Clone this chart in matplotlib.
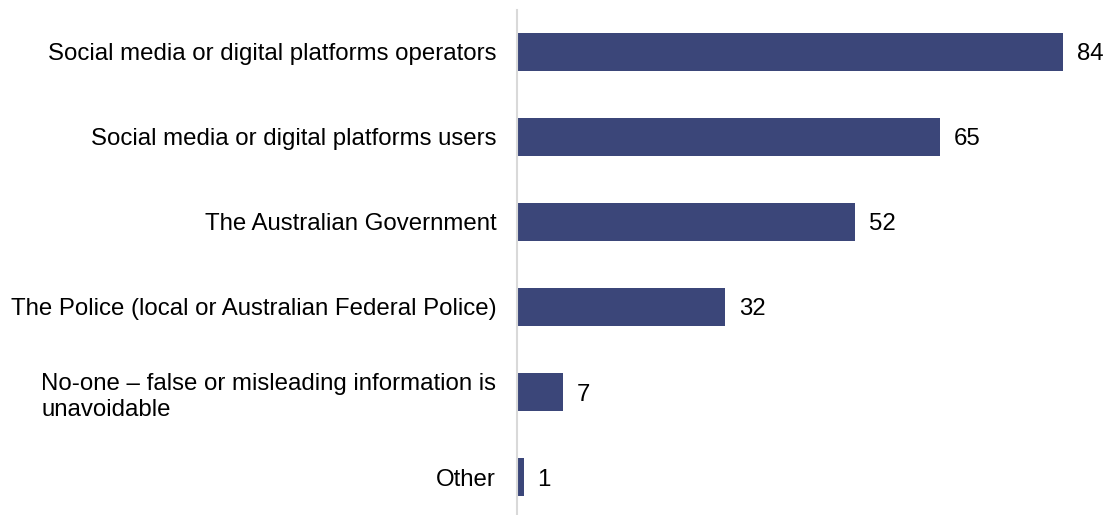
import matplotlib.pyplot as plt

plt.rcParams["font.family"] = ["Liberation Sans", "DejaVu Sans"]

categories = [
    "Social media or digital platforms operators",
    "Social media or digital platforms users",
    "The Australian Government",
    "The Police (local or Australian Federal Police)",
    "No-one \u2013 false or misleading information is\nunavoidable",
    "Other",
]
values = [84, 65, 52, 32, 7, 1]

BAR = "#3b4679"
FS = 17.3

fig = plt.figure(figsize=(11.11, 5.15), dpi=100)
ax = fig.add_axes([517 / 1111, 0, 585 / 1111, 505 / 515])

ypos = list(range(len(categories)))
ax.barh(ypos, values, height=0.45, color=BAR)
for y, v in zip(ypos, values):
    ax.annotate(str(v), (v, y), xytext=(10, 0), textcoords="offset points",
                va="center_baseline", ha="left", fontsize=FS, color="#000000")

ax.set_xlim(0, 90)
ax.set_ylim(5.447, -0.494)
ax.set_yticks(ypos)
ax.set_yticklabels(categories, fontsize=FS)
for lbl in ax.get_yticklabels():
    lbl.set_multialignment("left")
    lbl.set_linespacing(1.25)
ax.tick_params(axis="y", length=0, pad=15)
ax.set_xticks([])

for side in ("top", "right", "bottom"):
    ax.spines[side].set_visible(False)
ax.spines["left"].set_color("#d9d9d9")
ax.spines["left"].set_linewidth(1.5)

fig.savefig("out.png", dpi=100)
